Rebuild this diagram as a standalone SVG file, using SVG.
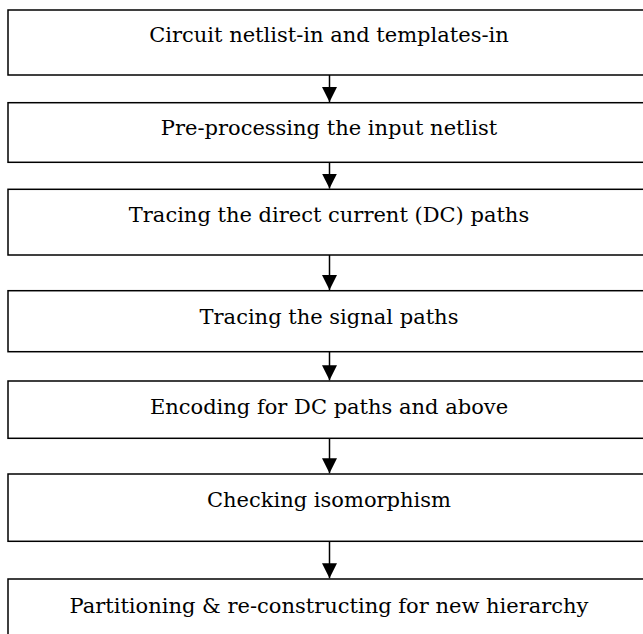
<svg xmlns="http://www.w3.org/2000/svg" width="643" height="634" viewBox="0 0 643 634">
<style>
.box{fill:#fff;stroke:#000;stroke-width:1.5}
.lbl{font-family:"DejaVu Serif","Liberation Serif",serif;font-size:21px;fill:#000;text-anchor:middle}
.conn{stroke:#000;stroke-width:1.5;fill:none}
</style>
<defs>
<marker id="ah" markerUnits="userSpaceOnUse" markerWidth="16" markerHeight="18" refX="15" refY="7.5" orient="auto">
<path d="M0,0 L15,7.5 L0,15 Z" fill="#000"/>
</marker>
</defs>
<rect width="643" height="634" fill="#fff"/>
<g id="n1"><rect class="box" x="8" y="10" width="660" height="65"/><text class="lbl" x="329" y="42">Circuit netlist-in and templates-in</text></g>
<g id="n2"><rect class="box" x="8" y="102.7" width="660" height="59.6"/><text class="lbl" x="329" y="135">Pre-processing the input netlist</text></g>
<g id="n3"><rect class="box" x="8" y="189.3" width="660" height="65.7"/><text class="lbl" x="329" y="222">Tracing the direct current (DC) paths</text></g>
<g id="n4"><rect class="box" x="8" y="290.7" width="660" height="61"/><text class="lbl" x="329" y="323.5">Tracing the signal paths</text></g>
<g id="n5"><rect class="box" x="8" y="381" width="660" height="57.3"/><text class="lbl" x="329" y="413.5">Encoding for DC paths and above</text></g>
<g id="n6"><rect class="box" x="8" y="474" width="660" height="67.3"/><text class="lbl" x="329" y="506.5">Checking isomorphism</text></g>
<g id="n7"><rect class="box" x="8" y="579" width="660" height="80"/><text class="lbl" x="329" y="612.5">Partitioning &amp; re-constructing for new hierarchy</text></g>
<g id="connectors">
<line class="conn" x1="329.5" y1="75" x2="329.5" y2="102" marker-end="url(#ah)"/>
<line class="conn" x1="329.5" y1="162.3" x2="329.5" y2="188.6" marker-end="url(#ah)"/>
<line class="conn" x1="329.5" y1="255" x2="329.5" y2="290" marker-end="url(#ah)"/>
<line class="conn" x1="329.5" y1="351.7" x2="329.5" y2="380.3" marker-end="url(#ah)"/>
<line class="conn" x1="329.5" y1="438.3" x2="329.5" y2="473.3" marker-end="url(#ah)"/>
<line class="conn" x1="329.5" y1="541.3" x2="329.5" y2="578.3" marker-end="url(#ah)"/>
</g>
</svg>
